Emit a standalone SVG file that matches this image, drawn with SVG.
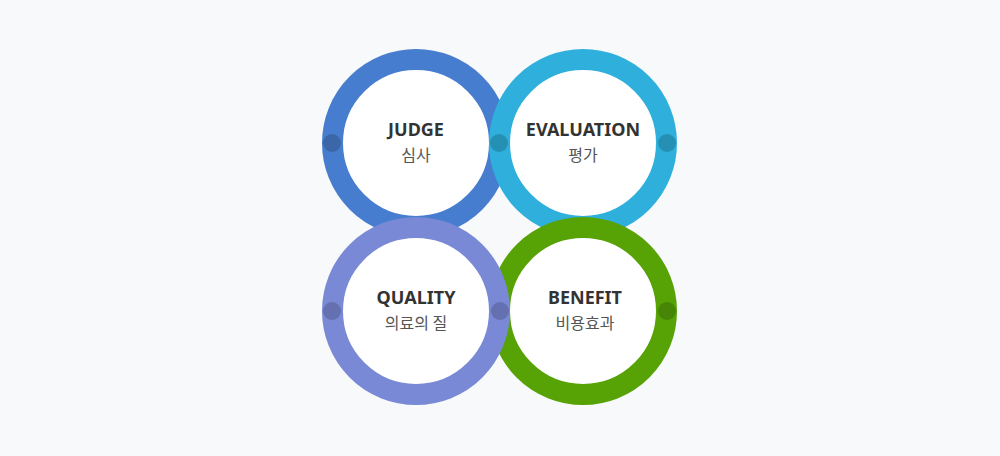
<svg xmlns="http://www.w3.org/2000/svg" width="1000" height="456" viewBox="0 0 1000 456">
<style>
.ring{fill:#fff;stroke-width:21}
.t{font-family:"Noto Sans","Noto Sans CJK KR",sans-serif;font-weight:bold;font-size:18px;fill:#333;text-anchor:middle}
.k{font-family:"Noto Sans CJK KR",sans-serif;font-size:16px;fill:#555;text-anchor:middle}
</style>
<rect width="1000" height="456" fill="#f7f9fb"/>
<g id="judge">
<circle class="ring" cx="416" cy="143" r="83.5" stroke="#477dce"/>
<circle cx="332" cy="143" r="9" fill="#3b66a8"/>
<text class="t" x="416" y="136">JUDGE</text><text class="k" x="416" y="161">심사</text>
</g>
<g id="evaluation">
<circle class="ring" cx="583" cy="143" r="83.5" stroke="#2fb0dc"/>
<circle cx="499" cy="143" r="9" fill="#2690b4"/>
<circle cx="667" cy="143" r="9" fill="#2690b4"/>
<text class="t" x="583" y="136">EVALUATION</text><text class="k" x="583" y="161">평가</text>
</g>
<g id="benefit">
<circle class="ring" cx="583" cy="311" r="83.5" stroke="#57a204"/>
<circle cx="667" cy="311" r="9" fill="#478506"/>
<text class="t" x="585" y="304">BENEFIT</text><text class="k" x="585" y="329">비용효과</text>
</g>
<g id="quality">
<circle class="ring" cx="416" cy="311" r="83.5" stroke="#7a89d6"/>
<circle cx="332" cy="311" r="9" fill="#6470b0"/>
<circle cx="500" cy="311" r="9" fill="#6470b0"/>
<text class="t" x="416" y="304">QUALITY</text><text class="k" x="416" y="329">의료의 질</text>
</g>
<g id="connectors"/>
</svg>
